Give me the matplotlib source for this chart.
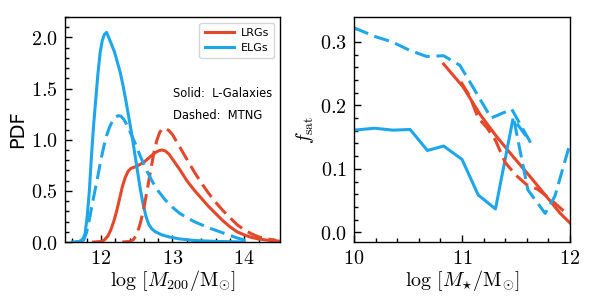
import matplotlib
matplotlib.use("Agg")
import matplotlib.pyplot as plt
from matplotlib.ticker import MultipleLocator, FuncFormatter

plt.rcParams['mathtext.fontset'] = 'cm'
plt.rcParams['font.family'] = ['DejaVu Sans']

RED = '#E5472B'
BLUE = '#1EA6EA'

# Left panel: PDF of log M200
elg_lg_x = [11.6, 11.7, 11.75, 11.78, 11.81, 11.84, 11.87, 11.9, 11.93, 11.96, 11.99, 12.02, 12.05, 12.08,
            12.11, 12.15, 12.19, 12.23, 12.27, 12.31, 12.35, 12.39, 12.43, 12.47, 12.51, 12.55, 12.59, 12.63,
            12.67, 12.71, 12.76, 12.85, 12.95, 13.1, 13.3, 13.6, 14.0]
elg_lg_y = [0.0, 0.005, 0.03, 0.08, 0.25, 0.5, 0.85, 1.15, 1.4, 1.65, 1.85, 1.97, 2.03, 2.05,
            2.0, 1.93, 1.86, 1.76, 1.66, 1.53, 1.38, 1.22, 1.06, 0.88, 0.7, 0.52, 0.37, 0.25,
            0.17, 0.13, 0.10, 0.07, 0.05, 0.03, 0.015, 0.006, 0.0]

elg_mt_x = [11.72, 11.76, 11.8, 11.84, 11.88, 11.92, 11.96, 12.0, 12.04, 12.08, 12.12, 12.16, 12.2, 12.24,
            12.28, 12.32, 12.36, 12.4, 12.45, 12.5, 12.55, 12.6, 12.66, 12.72, 12.8, 12.9, 13.0, 13.1,
            13.2, 13.3, 13.4, 13.5, 13.6, 13.7, 13.8, 13.9, 14.0, 14.1]
elg_mt_y = [0.0, 0.02, 0.09, 0.22, 0.37, 0.51, 0.65, 0.8, 0.93, 1.04, 1.12, 1.18, 1.22, 1.235,
            1.23, 1.2, 1.15, 1.09, 1.01, 0.93, 0.84, 0.76, 0.67, 0.59, 0.5, 0.41, 0.34, 0.28,
            0.24, 0.2, 0.17, 0.14, 0.115, 0.09, 0.065, 0.04, 0.02, 0.005]

lrg_lg_x = [11.9, 12.0, 12.05, 12.1, 12.14, 12.18, 12.22, 12.26, 12.3, 12.34, 12.38, 12.42, 12.46, 12.5,
            12.55, 12.6, 12.65, 12.7, 12.75, 12.8, 12.85, 12.9, 12.95, 13.0, 13.1, 13.2, 13.3, 13.4,
            13.5, 13.6, 13.7, 13.8, 13.9, 14.0, 14.1, 14.2, 14.3, 14.4, 14.5]
lrg_lg_y = [0.0, 0.005, 0.02, 0.06, 0.12, 0.2, 0.3, 0.42, 0.54, 0.63, 0.69, 0.72, 0.73, 0.74,
            0.76, 0.78, 0.81, 0.84, 0.87, 0.89, 0.9, 0.89, 0.86, 0.81, 0.71, 0.6, 0.51, 0.43,
            0.35, 0.28, 0.21, 0.15, 0.1, 0.07, 0.045, 0.03, 0.02, 0.012, 0.008]

lrg_mt_x = [12.3, 12.4, 12.45, 12.5, 12.55, 12.6, 12.65, 12.7, 12.74, 12.78, 12.82, 12.86, 12.9, 12.95,
            13.0, 13.05, 13.1, 13.2, 13.3, 13.4, 13.5, 13.6, 13.7, 13.8, 13.9, 14.0, 14.1, 14.2,
            14.3, 14.4, 14.45]
lrg_mt_y = [0.0, 0.005, 0.02, 0.07, 0.18, 0.33, 0.52, 0.72, 0.87, 0.99, 1.07, 1.11, 1.11, 1.09,
            1.05, 0.99, 0.93, 0.81, 0.69, 0.58, 0.48, 0.39, 0.31, 0.24, 0.17, 0.12, 0.08, 0.05,
            0.035, 0.02, 0.015]

# Right panel: satellite fraction vs log M*
elg_fs_lg_x = [10.0, 10.19, 10.36, 10.52, 10.68, 10.83, 11.0, 11.15, 11.31, 11.47]
elg_fs_lg_y = [0.161, 0.164, 0.161, 0.162, 0.129, 0.136, 0.115, 0.059, 0.037, 0.177]

elg_fs_mt_x = [10.0, 10.2, 10.35, 10.51, 10.67, 10.83, 10.98, 11.1, 11.27, 11.46, 11.63, 11.48, 11.61, 11.77, 11.86, 12.0]
elg_fs_mt_y = [0.322, 0.308, 0.300, 0.287, 0.277, 0.278, 0.263, 0.229, 0.180, 0.194, 0.143, 0.178, 0.067, 0.030, 0.057, 0.14]

lrg_fs_lg_x = [10.83, 11.01, 11.17, 11.32, 11.475, 11.63, 11.78, 11.91, 12.0]
lrg_fs_lg_y = [0.265, 0.229, 0.185, 0.151, 0.119, 0.088, 0.057, 0.030, 0.015]

lrg_fs_mt_x = [10.99, 11.07, 11.15, 11.23, 11.31, 11.4, 11.5, 11.6, 11.7, 11.8, 11.9, 11.98]
lrg_fs_mt_y = [0.237, 0.215, 0.180, 0.165, 0.145, 0.110, 0.090, 0.075, 0.068, 0.055, 0.040, 0.028]

fig = plt.figure(figsize=(5.98, 3.04), dpi=100)
ax1 = fig.add_axes([65/598, 62/304, 215/598, 225/304])
ax2 = fig.add_axes([354/598, 62/304, 216/598, 225/304])

lw = 2.2
dash = (0, (5, 2.2))
ax1.plot(lrg_lg_x, lrg_lg_y, color=RED, lw=lw, label='LRGs')
ax1.plot(elg_lg_x, elg_lg_y, color=BLUE, lw=lw, label='ELGs')
ax1.plot(lrg_mt_x, lrg_mt_y, color=RED, lw=lw, ls=dash)
ax1.plot(elg_mt_x, elg_mt_y, color=BLUE, lw=lw, ls=dash)

ax2.plot(lrg_fs_lg_x, lrg_fs_lg_y, color=RED, lw=lw)
ax2.plot(elg_fs_lg_x, elg_fs_lg_y, color=BLUE, lw=lw)
ax2.plot(lrg_fs_mt_x, lrg_fs_mt_y, color=RED, lw=lw, ls=dash)
ax2.plot(elg_fs_mt_x, elg_fs_mt_y, color=BLUE, lw=lw, ls=dash)

ax1.set_xlim(11.5, 14.5)
ax1.set_ylim(0, 2.2)
ax2.set_xlim(10, 12)
ax2.set_ylim(-0.015, 0.339)

ax1.xaxis.set_major_locator(MultipleLocator(1))
ax1.xaxis.set_minor_locator(MultipleLocator(0.2))
ax1.yaxis.set_major_locator(MultipleLocator(0.5))
ax1.yaxis.set_minor_locator(MultipleLocator(0.1))
ax2.xaxis.set_major_locator(MultipleLocator(1))
ax2.xaxis.set_minor_locator(MultipleLocator(0.2))
ax2.yaxis.set_major_locator(MultipleLocator(0.1))
ax2.yaxis.set_minor_locator(MultipleLocator(0.02))

fmt_int = FuncFormatter(lambda v, p: r'$%d$' % round(v))
fmt_1 = FuncFormatter(lambda v, p: r'$%.1f$' % v)
for ax in (ax1, ax2):
    ax.xaxis.set_major_formatter(fmt_int)
    ax.yaxis.set_major_formatter(fmt_1)
    ax.tick_params(which='both', direction='in', top=False, right=False, labelsize=14.5, pad=5)
    ax.tick_params(which='major', length=5, width=1)
    ax.tick_params(which='minor', length=3, width=1)
    for s in ax.spines.values():
        s.set_linewidth(1.0)

ax1.set_xlabel(r'$\log\,[M_{200}/{\rm M}_{\odot}]$', fontsize=14.5, labelpad=0)
ax1.set_ylabel('PDF', fontsize=14, labelpad=3)
ax2.set_xlabel(r'$\log\,[M_{\star}/{\rm M}_{\odot}]$', fontsize=14.5, labelpad=0)
ax2.set_ylabel(r'$f_{\rm sat}$', fontsize=14, labelpad=3)

ax1.legend(loc='upper right', fontsize=8, handlelength=2.6, frameon=True, fancybox=True,
           borderpad=0.5, labelspacing=0.4, handletextpad=0.6)
ax1.text(0.502, 0.662, 'Solid:  L-Galaxies', transform=ax1.transAxes, fontsize=8.3, va='center', ha='left')
ax1.text(0.502, 0.564, 'Dashed:  MTNG', transform=ax1.transAxes, fontsize=8.3, va='center', ha='left')

fig.savefig('out.png', dpi=100)
